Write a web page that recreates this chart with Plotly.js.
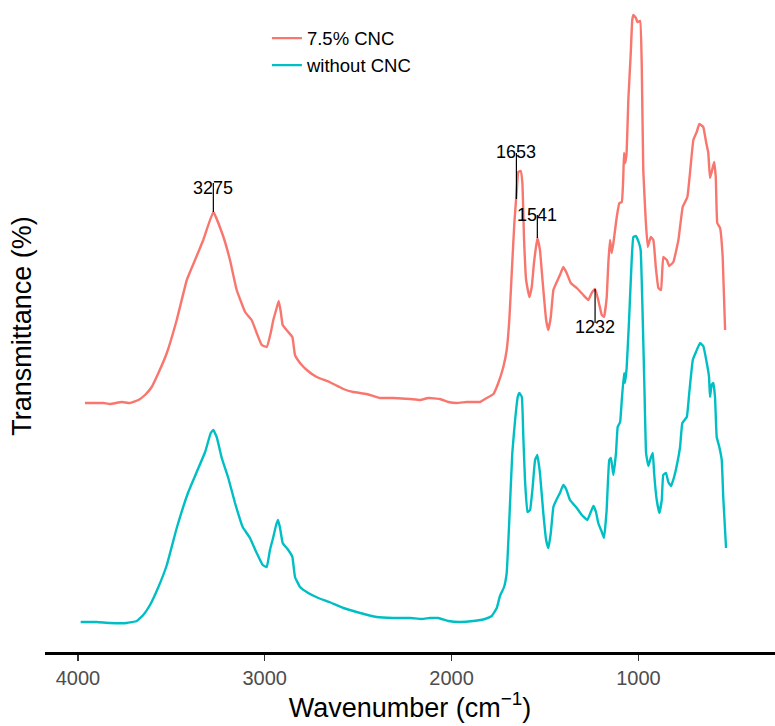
<!DOCTYPE html>
<html>
<head>
<meta charset="utf-8">
<script src="https://cdn.plot.ly/plotly-3.0.1.min.js"></script>
<style>html,body{margin:0;padding:0;background:#fff;}#chart{width:775px;height:726px;}</style>
</head>
<body>
<div id="chart"></div>
<script>
// Wavenumber (cm-1) and offset transmittance (arbitrary units)
var redWn = [3962,3864,3828,3765,3721,3676,3641,3605,3569,3524,3471,3417,3373,3329,3275,3221,3186,3150,3105,3070,3043,3016,2989,2968,2954,2936,2925,2914,2904,2874,2852,2838,2811,2775,2722,2654,2579,2526,2454,2383,2312,2222,2169,2124,2062,2017,1972,1919,1865,1848,1821,1776,1750,1723,1705,1691,1678,1664,1651,1643,1630,1621,1612,1601,1584,1571,1559,1541,1527,1512,1494,1482,1469,1455,1437,1420,1402,1384,1362,1330,1295,1268,1250,1232,1215,1196,1184,1170,1161,1152,1143,1134,1125,1116,1102,1089,1081,1077,1070,1063,1054,1041,1033,1027,1013,1006,991,982,974,961,950,934,920,907,893,879,867,848,835,813,786,763,738,724,706,688,674,653,638,626,617,608,595,586,578,563,549,536];
var redT = [249,249,248,250,249,252,257,265,279,299,332,372,392,412,440,415,392,362,340,332,319,307,305,319,332,344,351,340,327,320,315,297,289,282,275,270,263,260,258,254,254,253,252,254,253,250,249,250,250,250,253,258,269,285,302,332,379,429,462,480,481,469,412,372,355,365,389,414,402,369,332,322,335,362,370,377,385,379,369,364,357,352,359,363,352,337,335,354,389,412,399,409,422,435,449,450,475,499,489,500,552,599,632,637,634,630,631,585,482,432,405,415,412,385,364,362,395,392,386,390,412,445,455,479,512,520,528,525,510,499,474,480,490,475,429,424,395,322];

var cyanWn = [3985,3899,3828,3739,3685,3650,3614,3569,3524,3471,3409,3364,3319,3289,3275,3257,3230,3195,3159,3118,3079,3043,3011,2989,2972,2954,2939,2929,2918,2904,2874,2852,2838,2811,2767,2713,2654,2579,2508,2401,2312,2222,2160,2115,2071,2017,1955,1884,1821,1785,1758,1741,1719,1705,1691,1675,1660,1646,1637,1624,1616,1607,1594,1580,1566,1553,1541,1527,1509,1494,1482,1469,1455,1434,1420,1402,1387,1366,1330,1303,1273,1255,1241,1227,1215,1196,1184,1170,1156,1147,1134,1120,1111,1098,1089,1077,1072,1063,1050,1036,1027,1013,997,988,979,968,959,947,934,923,916,902,888,875,867,852,840,825,809,792,777,765,741,728,709,692,670,653,634,622,617,608,599,590,581,567,554,546,531];
var cyanT = [30,30,29,29,31,37,47,65,87,124,160,180,200,219,222,215,194,174,149,125,114,99,87,85,102,115,127,132,124,109,102,95,75,65,59,54,50,44,40,35,34,34,33,34,34,31,30,31,33,36,44,56,65,79,132,199,232,255,259,255,215,172,140,142,165,192,197,179,139,112,104,119,145,154,159,167,163,152,144,137,132,140,146,140,129,120,114,142,192,194,177,199,225,230,252,279,269,284,332,392,415,416,409,402,349,265,199,186,194,199,179,152,139,152,177,179,170,166,175,189,205,229,235,259,292,300,309,306,289,275,255,267,269,255,215,205,192,155,104];

var seriesNames = ["7.5% CNC", "without CNC"];
var seriesColors = ["#F8766D", "#00BFC4"];

// Peak labels: wavenumber, label text position, segment ends
var peakLabels = ["3275", "1653", "1541", "1232"];
var peakWn = [3275, 1653, 1541, 1232];
var peakTextT = [464, 500, 437, 325];
var peakLineFrom = [469, 499, 437, 363];
var peakLineTo = [440, 453, 414, 329];

var xTicks = [4000, 3000, 2000, 1000];

var FONT = "Liberation Sans, Arial, Helvetica, sans-serif";

var traces = [
  {x: redWn, y: redT, name: seriesNames[0], type: "scatter", mode: "lines",
   line: {color: seriesColors[0], width: 2.4, shape: "spline", smoothing: 0.3}, legendgroup: "a"},
  {x: cyanWn, y: cyanT, name: seriesNames[1], type: "scatter", mode: "lines",
   line: {color: seriesColors[1], width: 2.4, shape: "spline", smoothing: 0.3}, legendgroup: "b"}
];

var shapes = peakWn.map(function (w, i) {
  return {type: "line", xref: "x", yref: "y", x0: w, x1: w,
          y0: peakLineFrom[i], y1: peakLineTo[i],
          line: {color: "#000", width: 1.2}};
});
var annotations = peakWn.map(function (w, i) {
  return {x: w, y: peakTextT[i], xref: "x", yref: "y", text: peakLabels[i],
          showarrow: false, font: {family: FONT, size: 18, color: "#000"},
          xanchor: "center", yanchor: "middle"};
});

var layout = {
  width: 775, height: 726,
  margin: {l: 45, r: 0, t: 0, b: 74},
  paper_bgcolor: "#fff", plot_bgcolor: "#fff",
  font: {family: FONT},
  showlegend: true,
  legend: {x: 0.304, y: 0.97, xanchor: "left", yanchor: "top",
           font: {family: FONT, size: 18.5, color: "#000"},
           bgcolor: "rgba(0,0,0,0)", tracegroupgap: 0},
  xaxis: {
    range: [4176, 269], autorange: false,
    tickvals: xTicks, ticktext: xTicks.map(String),
    ticks: "outside", ticklen: 6, tickwidth: 1.5, tickcolor: "#333",
    tickfont: {family: FONT, size: 20, color: "#4D4D4D"},
    showline: true, linecolor: "#000", linewidth: 2.5,
    showgrid: false, zeroline: false,
    title: {text: "Wavenumber (cm<sup>\u22121</sup>)", font: {family: FONT, size: 27, color: "#000"}, standoff: 4}
  },
  yaxis: {
    range: [0, 652], autorange: false,
    showticklabels: false, ticks: "", showline: false, showgrid: false, zeroline: false,
    title: {text: "Transmittance (%)", font: {family: FONT, size: 27, color: "#000"}, standoff: 4}
  },
  shapes: shapes,
  annotations: annotations
};

Plotly.newPlot("chart", traces, layout, {displayModeBar: false, staticPlot: true});
</script>
</body>
</html>
